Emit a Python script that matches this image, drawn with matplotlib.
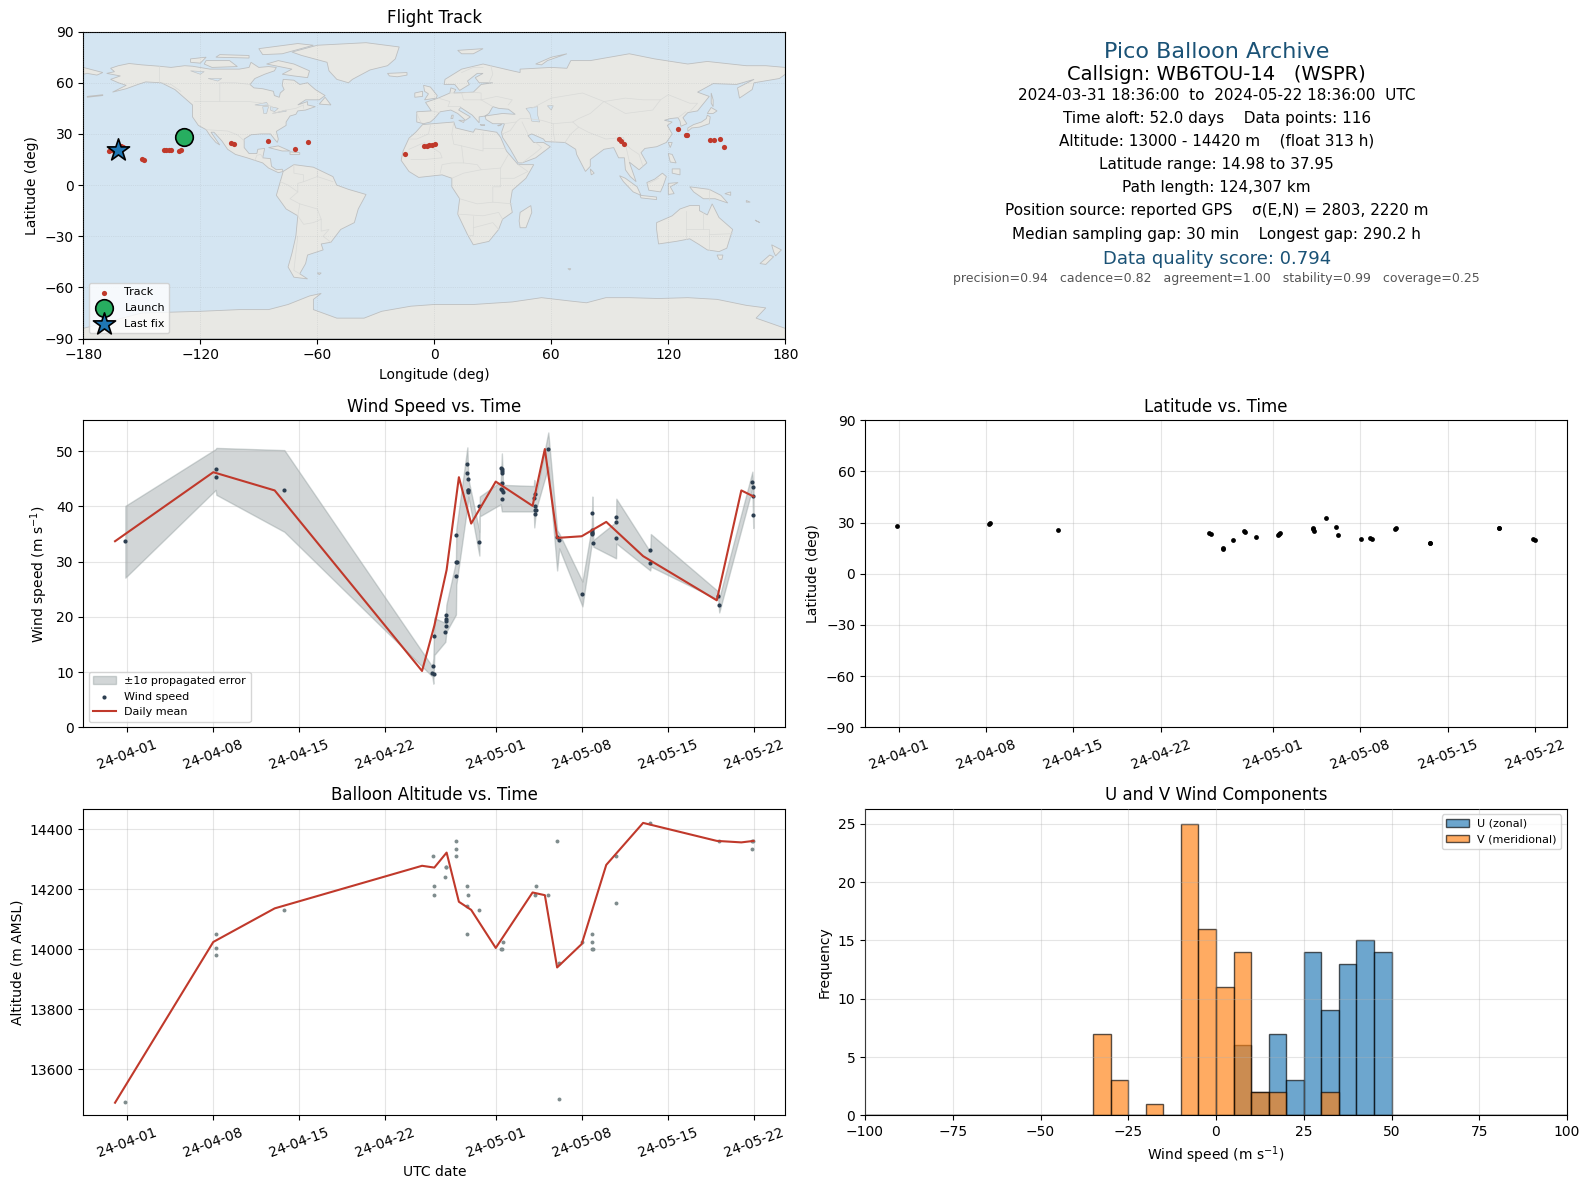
import matplotlib
matplotlib.use("Agg")
import matplotlib.pyplot as plt
import matplotlib.dates as mdates
from datetime import datetime
import numpy as np

W, H = 1590, 1189

# wind speed samples (days after 2024-04-01, m/s)
wind_day = [-0.16, 7.25, 7.25, 12.79, 24.92, 24.84, 25.0, 25.0, 25.9, 25.98, 25.98, 25.98, 25.98, 26.79, 26.76, 26.82, 26.79,
            27.77, 27.77, 27.77, 27.77, 27.69, 27.69, 28.67, 28.67, 30.53, 30.6, 30.51, 30.41, 30.51, 30.51, 30.53, 30.51, 30.46,
            33.22, 33.28, 33.2, 33.22, 33.14, 33.22, 34.28, 35.17, 35.0, 37.06, 37.95, 37.82, 37.8, 37.85, 37.87, 37.87,
            39.82, 39.82, 39.82, 42.6, 42.6, 48.2, 48.12, 50.97, 50.97, 50.94, 50.9]
wind_speed = [33.7, 45.4, 46.7, 42.9, 11.07, 9.8, 9.63, 16.5, 17.2, 18.3, 19.3, 19.6, 20.3, 27.4, 29.9, 29.9, 34.8,
              42.6, 42.9, 43.0, 44.9, 46.0, 47.6, 33.5, 40.0, 41.3, 42.6, 42.9, 43.1, 44.2, 46.1, 46.4, 46.7, 47.0,
              38.6, 39.3, 39.4, 40.0, 41.5, 42.2, 50.4, 34.0, 34.4, 24.1, 33.3, 35.0, 35.1, 35.4, 35.7, 38.8,
              34.2, 37.1, 38.0, 29.8, 32.1, 22.1, 23.7, 38.4, 41.8, 43.5, 44.4]

# propagated error envelope
band_day = [-0.16, 7.2, 7.25, 12.79, 24.84, 24.92, 25.0, 25.9, 25.98, 26.76, 26.79, 27.69, 27.77, 28.67, 28.7, 30.41, 30.5, 30.6,
            33.1, 33.14, 33.28, 34.28, 35.0, 35.17, 37.06, 37.82, 37.87, 37.95, 39.8, 39.82, 42.58, 42.63, 48.12, 48.2, 50.9, 50.97]
band_low = [27.1, 43.0, 42.1, 35.4, 9.2, 7.9, 13.1, 15.5, 17.3, 20.4, 25.8, 40.0, 41.8, 31.1, 38.2, 40.4, 39.1, 39.1,
            39.1, 36.2, 39.4, 47.2, 28.4, 32.4, 21.9, 33.3, 35.4, 32.7, 30.6, 33.3, 28.4, 29.1, 23.1, 20.8, 43.3, 36.1]
band_high = [40.1, 50.4, 50.6, 50.2, 11.0, 12.5, 19.8, 18.9, 22.2, 30.0, 35.9, 50.7, 45.0, 35.5, 41.8, 44.5, 49.6, 43.9,
             43.7, 44.8, 42.1, 53.4, 35.7, 35.1, 26.4, 36.3, 41.8, 33.9, 37.2, 41.4, 31.8, 35.0, 24.6, 23.4, 46.3, 43.0]

# daily means
mean_day = [-1, 7, 12, 24, 25, 26, 27, 28, 30, 33, 34, 35, 37, 39, 42, 48, 50, 51]
mean_wind = [33.7, 46.2, 42.9, 10.2, 18.4, 28.5, 45.3, 36.9, 44.5, 40.1, 50.4, 34.3, 34.6, 37.2, 31.0, 23.0, 42.9, 41.8]
mean_alt = [13488, 14024, 14136, 14278, 14272, 14322, 14158, 14131, 14004, 14189, 14180, 13939, 14017, 14281, 14421, 14361, 14356, 14361]

# altitude samples
alt_day = [-0.16, 7.25, 7.25, 7.25, 12.79, 24.86, 25.0, 25.0, 25.9, 25.95, 25.95, 26.79, 26.79, 26.79, 27.69, 27.77, 27.69, 27.69,
           28.67, 30.6, 30.53, 30.46, 33.25, 33.2, 34.28, 35.0, 35.17, 35.17, 37.06, 37.87, 37.87, 37.82, 37.92,
           39.82, 39.82, 42.6, 48.17, 50.9, 50.97, 50.9]
alt_m = [13490, 14050, 14005, 13980, 14130, 14310, 14210, 14180, 14240, 14273, 14273, 14310, 14333, 14360, 14210, 14180, 14143, 14050,
         14130, 14023, 14000, 14000, 14210, 14180, 14180, 14360, 13500, 13953, 14023, 14050, 14023, 14000, 14000,
         14310, 14153, 14421, 14360, 14333, 14360, 14360]

# latitude samples
lat_day = [-0.16, 7.25, 7.3, 12.79, 24.88, 25.02, 25.98, 26.02, 26.8, 27.74, 27.7, 28.68, 30.44, 30.57, 30.5, 33.2, 33.2, 33.29, 34.25,
           35.05, 35.2, 37.05, 37.8, 37.93, 39.8, 39.85, 42.57, 42.6, 48.12, 48.16, 50.82, 51.0]
lat_deg = [27.8, 29.0, 29.6, 25.9, 24.15, 23.2, 15.0, 14.8, 20.1, 24.7, 25.0, 21.8, 23.0, 24.0, 23.5, 26.9, 26.0, 24.9, 32.9,
           27.7, 23.0, 20.6, 21.0, 20.6, 26.5, 26.9, 18.3, 18.1, 26.7, 27.1, 20.6, 20.1]

# track positions
track_lon = [-166.8, -165.5, -163.5, -160.9, -159.8, -149.9, -148.9, -138.6, -137.5, -136.2, -135.2, -131.0, -129.8,
             -104.2, -102.8, -85.1, -71.5, -64.6, -15.0, -5.5, -3.8, -2.7, -1.2, 0.4, 94.5, 95.7, 97.4,
             124.9, 128.9, 129.5, 141.6, 143.3, 146.6, 148.7]
track_lat = [20.1, 20.4, 21.0, 23.2, 22.5, 15.4, 14.6, 20.7, 20.8, 20.7, 20.6, 19.9, 20.4,
             24.4, 24.2, 26.0, 21.3, 25.4, 18.3, 23.0, 23.2, 23.3, 23.6, 24.2, 27.1, 26.0, 24.0,
             32.8, 29.5, 29.5, 26.5, 26.6, 27.1, 22.6]
launch_lon, launch_lat = [-128.5], [28.2]
last_lon, last_lat = [-162.3], [20.6]

# histogram
bin_edges = np.arange(-100, 105, 5)
u_left = [5, 10, 15, 20, 25, 30, 35, 40, 45]
u_count = [6, 2, 7, 3, 14, 9, 13, 15, 14]
v_left = [-35, -30, -20, -10, -5, 0, 5, 10, 15, 30]
v_count = [7, 3, 1, 25, 16, 11, 14, 2, 2, 2]

# date ticks
tick_dates = ["2024-04-01", "2024-04-08", "2024-04-15", "2024-04-22", "2024-05-01", "2024-05-08", "2024-05-15", "2024-05-22"]

# land outlines, lon/lat
north_america = [(-168, 65.5), (-164, 66.5), (-166, 68.5), (-162, 70), (-156.5, 71.3), (-150, 70.5), (-141, 69.7), (-135, 69),
                 (-128, 70), (-124, 69.7), (-115, 68), (-108, 68), (-100, 68), (-95, 69), (-94, 72), (-90, 69), (-85, 69.5),
                 (-81, 69), (-82, 67), (-87, 65), (-92, 62.5), (-94.5, 59), (-92.5, 57), (-88, 56.5), (-82.5, 55), (-82, 52.5),
                 (-79.5, 51.5), (-79, 54), (-77, 56), (-78, 58.5), (-77.5, 62), (-72, 61.5), (-69, 59), (-65, 60), (-61, 56),
                 (-56, 52.5), (-59, 50), (-66, 50), (-70, 47), (-65, 49), (-65, 47), (-61, 46), (-66, 44), (-70, 43.5), (-71, 41.5),
                 (-74, 40.5), (-76, 37), (-76, 35), (-81, 31.5), (-80, 27), (-80.5, 25), (-82, 27), (-84, 30), (-89, 30), (-94, 29.5),
                 (-97.5, 27), (-97.5, 22), (-95, 18.5), (-91, 18.5), (-90.5, 21), (-87, 21.5), (-88, 16), (-84, 15.5), (-83.5, 11),
                 (-81, 9), (-78, 9.3), (-77.5, 8), (-80, 7.3), (-85, 10), (-88, 13), (-92, 14.5), (-96, 16), (-102, 18), (-106, 21),
                 (-109, 26), (-113, 31), (-114.5, 31), (-110, 23.5), (-112, 25), (-115, 29), (-117, 32.5), (-121, 35), (-124, 40),
                 (-124, 47), (-128, 51), (-133, 56), (-140, 60), (-148, 60.5), (-152, 59), (-158, 56.5), (-165, 54.5), (-158, 58.5),
                 (-162, 60), (-166, 62), (-161, 64)]
south_america = [(-77.5, 8), (-72, 12), (-62, 10.5), (-52, 5), (-50, 0), (-44, -2.5), (-35, -5.5), (-39, -14), (-41, -22), (-48, -26),
                 (-53, -33.5), (-58, -34.5), (-57, -38), (-65, -41), (-66, -46), (-69, -52), (-65, -55), (-72, -54), (-75, -48),
                 (-73, -40), (-71, -30), (-70, -18), (-76, -14), (-81, -6), (-80, -2), (-79, 2)]
africa = [(-6, 35.5), (10, 37), (11, 33.5), (20, 31), (21, 33), (32, 31), (34, 28), (37, 20), (43, 12), (51, 12), (47, 4), (40, -3),
          (39, -10), (40, -16), (35, -20), (33, -26), (28, -33), (20, -35), (17, -29), (12, -17), (13, -8), (9, -1), (9, 4), (4, 6),
          (-4, 5), (-8, 4.5), (-13, 8), (-17, 14.5), (-16, 20), (-13, 27.5), (-9.5, 31)]
eurasia = [(-9, 37), (-9, 43), (-1.5, 43.5), (-4.5, 48.5), (2, 51), (8, 54), (8.5, 57), (11, 56), (10, 54), (20, 54.5), (24, 59), (30, 60),
           (23, 60), (21, 63), (25, 65.5), (22, 65.5), (17, 61), (18, 59), (13, 55.5), (10.5, 59), (5, 59), (5.5, 62), (14, 68), (25, 71),
           (40, 67), (44, 66), (44, 68), (60, 69), (68, 68.5), (70, 73), (80, 73), (100, 77), (113, 74), (130, 71), (140, 72.5), (160, 70),
           (170, 70), (180, 69), (180, 65), (177, 62.5), (164, 60), (163, 56), (156.5, 51), (155.5, 57), (164, 62), (155, 59), (143, 59.5),
           (135, 54.5), (141, 52), (135, 43.5), (130, 42.5), (127.5, 39.5), (129.5, 36), (126.5, 34.5), (126, 37.5), (125, 39.5), (121, 39),
           (118, 38), (122, 37), (119.5, 35), (122, 30), (119, 25), (114, 22.5), (108, 21.5), (106, 19), (109, 13), (105, 9), (100, 13.5),
           (103.5, 2), (100.5, 5), (98, 9), (97.5, 16), (94.5, 16), (92, 22), (87, 21), (80, 15), (80, 11), (77.5, 8), (73, 18), (72.5, 21),
           (67, 25), (57, 25.5), (56, 27), (50, 30), (48, 29), (51, 25), (56, 25), (59.5, 22.5), (52, 16), (45, 13), (43, 13), (39, 21),
           (35, 28), (34.5, 31), (36, 36), (30, 36), (26.5, 38.5), (26, 40.5), (29, 41), (35, 42), (41.5, 41.5), (38, 44.5), (33, 45), (30, 46),
           (28, 42), (26, 40.5), (23, 40), (23, 36.5), (19.5, 41), (13.5, 45.5), (12.5, 44), (18.5, 40), (16, 38), (12, 42), (8.5, 44), (3, 43),
           (0, 39), (-2, 37), (-5.5, 36)]
australia = [(114, -22), (122, -18), (126, -14), (131, -12), (136, -12), (136, -15), (140, -17.5), (142.5, -11), (146, -19), (153, -26),
             (150, -37), (146, -39), (140, -38), (136, -35), (131, -31.5), (124, -33), (115, -34.5), (114, -26)]
antarctica = [(-180, -84), (-160, -78), (-150, -75), (-120, -74), (-100, -73), (-85, -73), (-75, -70), (-64, -65), (-58, -63.5), (-62, -67),
              (-62, -73), (-50, -78), (-36, -78), (-27, -74), (-12, -71), (0, -70), (20, -70), (40, -68.5), (55, -66), (70, -68), (78, -69),
              (88, -66), (100, -66), (115, -66.5), (130, -66), (145, -67), (160, -70.5), (170, -72), (165, -78), (180, -84), (180, -90), (-180, -90)]
greenland = [(-73, 78), (-60, 82), (-35, 83.5), (-18, 81), (-20, 74), (-24, 70), (-33, 67.5), (-42, 62), (-44, 60), (-50, 62), (-54, 67), (-55, 72), (-68, 76)]
islands = [
    [(-180, 69), (-175, 67.5), (-170, 66), (-173, 64.5), (-178, 65.5), (-180, 65)],  # Chukotka
    [(-80, 73), (-72, 71), (-64, 67), (-65, 63), (-72, 64), (-78, 65), (-73, 68), (-86, 71)],  # Baffin
    [(-117, 73), (-105, 73), (-101, 69.5), (-114, 69), (-118, 71)],  # Victoria
    [(-125, 74), (-117, 75), (-120, 71.5), (-125, 72)],  # Banks
    [(-90, 80), (-70, 83), (-62, 82), (-78, 77), (-88, 76.5)],  # Ellesmere
    [(-110, 76.5), (-95, 76), (-95, 74.5), (-112, 75)],
    [(-59, 47.5), (-53, 47), (-56, 51.5)],  # Newfoundland
    [(-85, 22), (-80, 23), (-74, 20), (-78, 20)],  # Cuba
    [(-74, 19.5), (-69, 19), (-69, 18), (-74, 18)],
    [(-178, 52), (-170, 53), (-170, 52.5), (-178, 51.5)],
    [(-24, 65.5), (-14, 66), (-14, 64.5), (-19, 63.5), (-23, 64)],  # Iceland
    [(-5.5, 58.5), (-2, 57.5), (1.5, 52.5), (1, 51), (-5, 50), (-3, 53.5), (-5, 55)],  # UK
    [(-10, 54), (-6, 55), (-6, 52), (-10, 51.5)],  # Ireland
    [(12, 79), (25, 80), (20, 77), (14, 77)],  # Svalbard
    [(52, 71), (60, 75), (68, 77), (58, 73), (55, 70.5)],  # Novaya Zemlya
    [(142, 54), (143, 50), (143, 46), (142, 48)],  # Sakhalin
    [(140, 41), (141.5, 40), (141, 36), (136, 34), (132, 33.5), (130, 31.5), (130, 33.5), (133, 35.5), (137, 37), (139.5, 39)],  # Honshu
    [(140, 42), (142, 45.5), (145, 43.5), (143, 42)],  # Hokkaido
    [(120, 25), (122, 25), (121, 22)],  # Taiwan
    [(120, 18.5), (122, 18), (124, 13), (121, 13.5)],
    [(122, 9.5), (126, 9.5), (126, 6), (122, 7)],
    [(80, 9.5), (82, 7), (80.5, 6)],  # Sri Lanka
    [(95, 5.5), (98, 4), (104, -1), (106, -6), (102, -4), (97, 2)],  # Sumatra
    [(105.5, -6), (114, -7), (114, -8.5), (106, -7.5)],  # Java
    [(109, 1.5), (113, 3.5), (117, 7), (119, 5), (117.5, 0), (116, -4), (110, -3)],  # Borneo
    [(120, 1), (125, 1.5), (121, -1), (123, -5), (120, -5.5)],  # Sulawesi
    [(131, -1), (141, -2.5), (147, -6), (150.5, -10.5), (144, -8), (138, -8), (133, -4)],  # New Guinea
    [(149, -5), (152, -4), (152, -6)],
    [(145, -41), (148, -41), (147.5, -43.5), (146, -43.5)],  # Tasmania
    [(173, -35), (178, -38), (175, -41.5), (174, -39)],  # NZ north
    [(172, -41), (174, -42), (170, -46.5), (167, -46)],  # NZ south
    [(44, -16), (49.5, -12), (50, -16), (47, -25), (44, -25), (43.5, -21)],  # Madagascar
    [(9, 41), (9.7, 41), (9.5, 39), (8.5, 39)],
    [(12.5, 38), (15.5, 38), (15, 36.7)],
    [(-60, -51.5), (-58, -51.5), (-59, -52.5)],
    [(68.5, -49), (70, -49), (69.5, -49.8)],
    [(160, -9), (162, -10), (160, -10)],
    [(165, -21), (167, -22), (164.5, -20.5)],
    [(32.5, 35), (34.5, 35.5), (33, 34.7)],
    [(23.5, 35.5), (26, 35.2), (24, 35)],
]
lakes = [
    [(47, 45), (53, 46), (53, 41), (54, 37), (50, 37.5), (49, 42)],  # Caspian
    [(-92, 47), (-86, 48.5), (-85, 46.5), (-89, 46.7)],
    [(-88, 46), (-85, 46), (-86, 42), (-87.5, 42)],
    [(-84, 46), (-80, 45), (-82, 43), (-84, 44)],
    [(-83, 42), (-76, 44), (-76, 43.2), (-79, 42.8)],
    [(-125, 67), (-118, 66.5), (-120, 65)],
    [(-116, 62.5), (-109, 62.5), (-111, 61)],
    [(58, 46.5), (61, 46.5), (60, 44)],
]
borders = [
    [(-141, 69.7), (-141, 60)], [(-130, 55), (-135, 59), (-140, 60)], [(-123, 49), (-95, 49), (-88, 48), (-83, 46), (-82.5, 42), (-76, 44), (-71, 45), (-67, 47), (-67, 45)],
    [(-117, 32.5), (-106, 31.7), (-101, 29.5), (-97.5, 26)], [(-92, 14.5), (-91, 17.5), (-89, 18), (-88, 16)], [(-110, 49), (-110, 60), (-102, 60), (-94.5, 59)],
    [(-70, -18), (-69, -11), (-74, -8), (-70, -4), (-70, 1), (-67, 2), (-60, 5), (-60, 8)], [(-79, 2), (-75, 0), (-70, -4)], [(-72, 12), (-72, 7), (-67, 6), (-67, 2)],
    [(-69, -11), (-60, -14), (-58, -20), (-58, -27), (-54, -26), (-57, -30), (-53, -33.5)], [(-70, -18), (-67, -23), (-62, -22), (-58, -20)], [(-70, -30), (-72, -50), (-69, -52)],
    [(-60, 5), (-52, 2)], [(-2, 35), (-3, 30), (-9, 27), (-13, 27)], [(-13, 21), (-5, 25), (3, 19), (4, 16), (-5, 15), (-12, 15)], [(10, 37), (9, 30), (10, 24), (14, 23), (25, 20), (25, 31)],
    [(25, 22), (36, 22)], [(14, 23), (15, 13), (9, 13), (4, 12), (3, 7)], [(15, 13), (22, 12), (24, 9), (34, 10), (36, 14), (38, 18)], [(24, 9), (15, 7), (9, 4)], [(34, 10), (34, -1), (30, -1), (30, -10), (40, -11)],
    [(13, -8), (22, -11), (30, -10)], [(12, -17), (25, -18), (33, -16), (35, -20)], [(20, -18), (20, -29), (17, -29)], [(20, -25), (30, -22), (33, -26)], [(34, 4), (41, 4), (48, 8), (43, 12)],
    [(2, 51), (8, 49), (7, 46), (13.5, 46)], [(8, 54), (14, 54), (15, 50), (24, 50), (30, 46)], [(14, 54), (20, 54.5), (24, 54), (24, 50)], [(-9, 42), (-7, 37)], [(-1.5, 43.5), (3, 42.5)],
    [(24, 50), (32, 52), (40, 50), (38, 47)], [(28, 60), (30, 65), (29, 70)], [(14, 66), (20, 69), (25, 69)], [(36, 36), (42, 37), (44, 39), (48, 39)], [(42, 37), (39, 32), (35, 30)], [(48, 30), (45, 37)],
    [(45, 13), (52, 19), (55, 22), (52, 25)], [(48, 39), (55, 38), (61, 36), (61, 31), (62, 25)], [(61, 36), (71, 37), (74, 34), (70, 30), (67, 25)], [(74, 34), (79, 31), (88, 27), (97, 28), (98, 24), (101, 21), (105, 18), (107, 11)],
    [(50, 45), (60, 51), (76, 54), (87, 49), (98, 51), (107, 50), (116, 50), (120, 53), (131, 48), (135, 48), (131, 43)], [(87, 49), (80, 42), (74, 39), (71, 37)], [(116, 50), (112, 44), (98, 42), (87, 49)],
    [(125, 39.5), (129, 43)], [(98, 24), (100, 14)], [(141, -2.5), (141, -9)], [(110, 1), (115, 4)], [(129, -15), (129, -31.5)], [(138, -16), (138, -26), (141, -26), (141, -38)], [(129, -26), (138, -26)], [(141, -29), (153, -28.5)],
]


def ax_px(left, top, right, bottom):
    return fig.add_axes([left / W, 1 - bottom / H, (right - left) / W, (bottom - top) / H])


def to_num(days):
    return BASE + np.asarray(days, dtype=float)


def style_time_axis(ax, xmin, xmax):
    ax.set_xticks([mdates.date2num(datetime.strptime(d, "%Y-%m-%d")) for d in tick_dates])
    ax.xaxis.set_major_formatter(mdates.DateFormatter("%y-%m-%d"))
    ax.tick_params(axis="x", labelrotation=20)
    ax.set_xlim(BASE + xmin, BASE + xmax)
    ax.grid(True, alpha=0.33)


BASE = mdates.date2num(datetime(2024, 4, 1))
RED = "#c0392b"
NAVY = "#2c3e50"
GREY = "#7f8c8d"
TITLE_BLUE = "#1a5276"

fig = plt.figure(figsize=(W / 100, H / 100), dpi=100)

# flight track
ax = ax_px(83.3, 31.6, 785.3, 338.6)
ax.set_facecolor("#d4e5f2")
for shape in [north_america, south_america, africa, eurasia, australia, antarctica, greenland] + islands:
    xs, ys = zip(*shape)
    ax.fill(xs, ys, facecolor="#e8e8e4", edgecolor="#bdbfc0", lw=0.6, zorder=1)
for shape in lakes:
    xs, ys = zip(*shape)
    ax.fill(xs, ys, facecolor="#d4e5f2", edgecolor="#bdbfc0", lw=0.4, zorder=1.1)
for line in borders:
    xs, ys = zip(*line)
    ax.plot(xs, ys, color="#d9dad8", lw=0.5, zorder=1.2)
ax.scatter(track_lon, track_lat, s=14, color=RED, lw=0, zorder=3, label="Track")
ax.scatter(launch_lon, launch_lat, s=160, color="#27ae60", edgecolor="k", lw=1.2, zorder=4, label="Launch")
ax.scatter(last_lon, last_lat, s=280, marker="*", color="#1f77b4", edgecolor="k", lw=1.2, zorder=5, label="Last fix")
ax.set_xlim(-180, 180)
ax.set_ylim(-90, 90)
ax.set_xticks(np.arange(-180, 181, 60))
ax.set_yticks(np.arange(-90, 91, 30))
ax.grid(True, color="#9aa0a4", alpha=0.35, lw=0.5, ls=":", zorder=2)
ax.set_axisbelow(False)
ax.set_xlabel("Longitude (deg)")
ax.set_ylabel("Latitude (deg)")
ax.set_title("Flight Track", fontsize=12)
ax.legend(loc="lower left", fontsize=8)

# summary text
summary = [
    (52, "Pico Balloon Archive", 16, TITLE_BLUE),
    (74.5, "Callsign: WB6TOU-14   (WSPR)", 14, "black"),
    (95, "2024-03-31 18:36:00  to  2024-05-22 18:36:00  UTC", 11, "black"),
    (118, "Time aloft: 52.0 days    Data points: 116", 11, "black"),
    (141, "Altitude: 13000 - 14420 m    (float 313 h)", 11, "black"),
    (164, "Latitude range: 14.98 to 37.95", 11, "black"),
    (187.5, "Path length: 124,307 km", 11, "black"),
    (211, "Position source: reported GPS    σ(E,N) = 2803, 2220 m", 11, "black"),
    (234, "Median sampling gap: 30 min    Longest gap: 290.2 h", 11, "black"),
    (259, "Data quality score: 0.794", 13, TITLE_BLUE),
    (279, "precision=0.94   cadence=0.82   agreement=1.00   stability=0.99   coverage=0.25", 9, "#555555"),
]
for y, txt, size, col in summary:
    fig.text(1216.7 / W, 1 - y / H, txt, fontsize=size, color=col, ha="center", va="center")

# wind speed
ax = ax_px(83.3, 420.3, 785.3, 727.3)
ax.fill_between(to_num(band_day), band_low, band_high, color=GREY, alpha=0.35, label="±1σ propagated error")
ax.scatter(to_num(wind_day), wind_speed, s=9, color=NAVY, lw=0, label="Wind speed", zorder=3)
ax.plot(to_num(mean_day), mean_wind, color=RED, lw=1.5, label="Daily mean", zorder=4)
style_time_axis(ax, -3.585, 53.58)
ax.set_ylim(0, 55.6)
ax.set_ylabel("Wind speed (m s$^{-1}$)")
ax.set_title("Wind Speed vs. Time", fontsize=12)
ax.legend(loc="lower left", fontsize=8)

# latitude
ax = ax_px(865.0, 420.3, 1567.0, 727.3)
ax.scatter(to_num(lat_day), lat_deg, s=12, color="black", lw=0, zorder=3)
style_time_axis(ax, -2.69, 53.57)
ax.set_ylim(-90, 90)
ax.set_yticks(np.arange(-90, 91, 30))
ax.set_ylabel("Latitude (deg)")
ax.set_title("Latitude vs. Time", fontsize=12)

# altitude
ax = ax_px(83.3, 808.8, 785.3, 1115.3)
ax.scatter(to_num(alt_day), alt_m, s=8, color=GREY, lw=0, zorder=3)
ax.plot(to_num(mean_day), mean_alt, color=RED, lw=1.5, zorder=4)
style_time_axis(ax, -3.585, 53.58)
ax.set_ylim(13446, 14468)
ax.set_yticks(np.arange(13600, 14401, 200))
ax.set_ylabel("Altitude (m AMSL)")
ax.set_xlabel("UTC date")
ax.set_title("Balloon Altitude vs. Time", fontsize=12)

# U and V histograms
ax = ax_px(865.0, 808.8, 1567.0, 1115.3)
u_heights = np.zeros(len(bin_edges) - 1)
v_heights = np.zeros(len(bin_edges) - 1)
u_heights[np.searchsorted(bin_edges, u_left)] = u_count
v_heights[np.searchsorted(bin_edges, v_left)] = v_count
ax.hist(bin_edges[:-1], bins=bin_edges, weights=u_heights, color="#1f77b4", alpha=0.65, edgecolor="k", lw=1, label="U (zonal)")
ax.hist(bin_edges[:-1], bins=bin_edges, weights=v_heights, color="#ff7f0e", alpha=0.65, edgecolor="k", lw=1, label="V (meridional)")
ax.set_xlim(-100, 100)
ax.set_ylim(0, 26.3)
ax.grid(True, alpha=0.33)
ax.set_axisbelow(False)
ax.set_xlabel("Wind speed (m s$^{-1}$)")
ax.set_ylabel("Frequency")
ax.set_title("U and V Wind Components", fontsize=12)
ax.legend(loc="upper right", fontsize=8)

fig.savefig("out.png", dpi=100)
